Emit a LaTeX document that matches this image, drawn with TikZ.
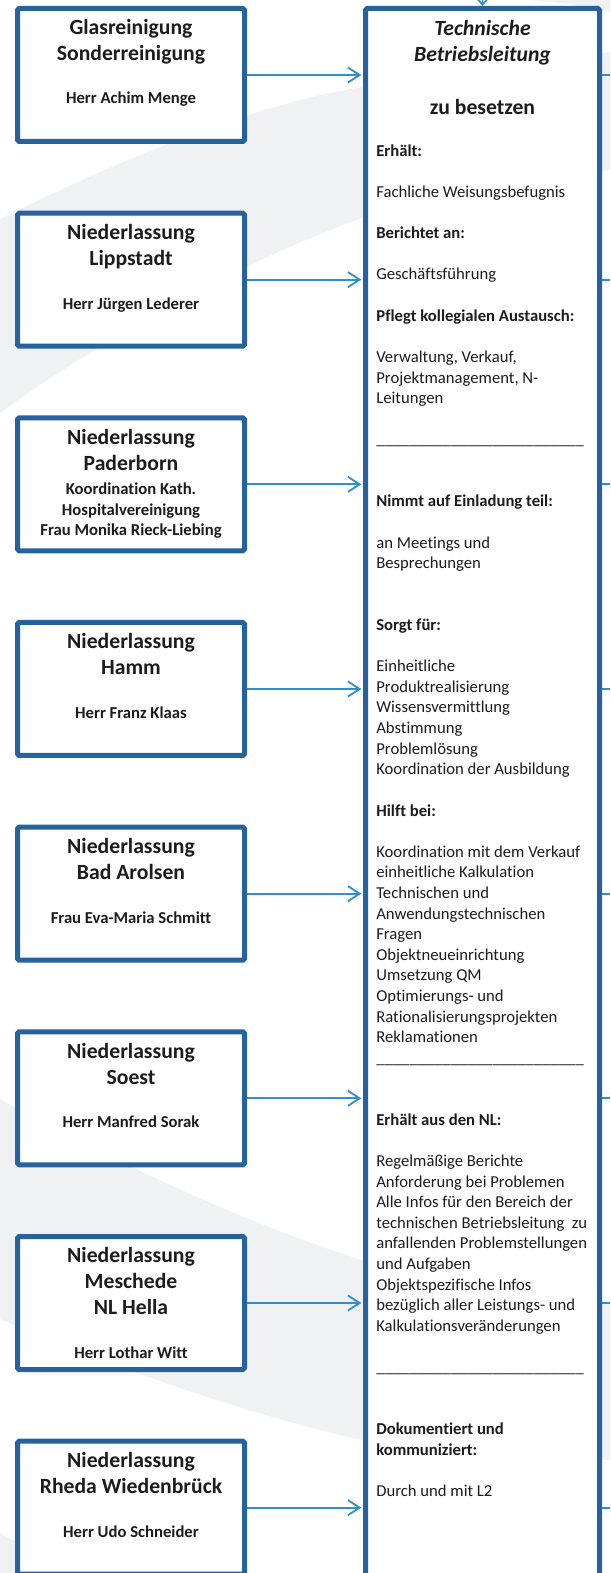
\documentclass[tikz,border=0pt]{standalone}
\usepackage{fontspec}
\setmainfont{Carlito}[Ligatures=NoCommon]
\usetikzlibrary{positioning,arrows.meta}

\definecolor{rahmenblau}{RGB}{37,98,158}
\definecolor{pfeilblau}{RGB}{48,143,207}
\definecolor{hintergrau}{RGB}{240,241,243}
\definecolor{schrift}{RGB}{28,28,28}

\newcommand{\nlname}[1]{{\fontsize{10}{12}\selectfont #1}}
\newcommand{\trennstrich}{\_\_\_\_\_\_\_\_\_\_\_\_\_\_\_\_\_\_\_\_\_\_\_\_\_}

\begin{document}
\begin{tikzpicture}[x=0.6pt,y=-0.6pt,>={Straight Barb[length=7pt,width=9pt]},node distance=40pt,every node/.style={text=schrift}]
\tikzstyle{nlbox}=[draw=rahmenblau,line width=3pt,fill=white,rounded corners=1pt,minimum width=136.2pt,minimum height=79.8pt]
\tikzstyle{tblbox}=[draw=rahmenblau,line width=3pt,fill=white,rounded corners=1pt,minimum width=140.4pt,minimum height=955pt]
\tikzstyle{nltext}=[align=center,inner sep=0pt,font=\bfseries\fontsize{13}{15.6}\selectfont]
\tikzstyle{tbltitel}=[align=center,inner sep=0pt,font=\bfseries\fontsize{13}{15.9}\selectfont]
\tikzstyle{tbltext}=[align=left,inner sep=0pt,font=\fontsize{10}{12.37}\selectfont]
\tikzstyle{zufluss}=[->,draw=pfeilblau,line width=1.1pt,shorten >=1pt]
\tikzstyle{abfluss}=[draw=pfeilblau,line width=1.1pt]
\useasboundingbox (0,0) rectangle (610,1573);

% Hintergrund
\fill[hintergrau] (0,219) .. controls (120,160) and (250,105) .. (362,87)
  .. controls (450,72) and (540,58) .. (610,52) -- (610,170)
  .. controls (500,185) and (420,200) .. (362,218)
  .. controls (240,262) and (100,340) .. (0,413) -- cycle;
\fill[hintergrau] (0,1099) .. controls (120,1165) and (250,1225) .. (362,1260)
  .. controls (450,1285) and (530,1298) .. (610,1303) -- (610,1460)
  .. controls (500,1452) and (430,1448) .. (362,1440)
  .. controls (250,1415) and (120,1370) .. (0,1319) -- cycle;
\fill[hintergrau] (530,0) .. controls (570,4) .. (610,12) -- (610,0) -- cycle;
\fill[hintergrau] (0,1533) .. controls (30,1550) .. (70,1573) -- (0,1573) -- cycle;

% Niederlassungen
\node[nlbox] (glas) at (131,75) {};
\node[nlbox,below=of glas] (lipp) {};
\node[nlbox,below=of lipp] (pade) {};
\node[nlbox,below=of pade] (hamm) {};
\node[nlbox,below=of hamm] (arol) {};
\node[nlbox,below=of arol] (soes) {};
\node[nlbox,below=of soes] (mesc) {};
\node[nlbox,below=of mesc] (rhed) {};

\node[nltext,below=7.6pt of glas.north] (glastext) {Glasreinigung\\Sonderreinigung\\[10.5pt]\nlname{Herr Achim Menge}};
\node[nltext,below=8pt of lipp.north] (lipptext) {Niederlassung\\Lippstadt\\[10.5pt]\nlname{Herr Jürgen Lederer}};
\node[nltext,below=8pt of pade.north] (padetext) {Niederlassung\\Paderborn\\[-1pt]\nlname{Koordination Kath.}\\[-3.2pt]\nlname{Hospitalvereinigung}\\[-3.2pt]\nlname{Frau Monika Rieck-Liebing}};
\node[nltext,below=8pt of hamm.north] (hammtext) {Niederlassung\\Hamm\\[10.5pt]\nlname{Herr Franz Klaas}};
\node[nltext,below=8pt of arol.north] (aroltext) {Niederlassung\\Bad Arolsen\\[10.5pt]\nlname{Frau Eva-Maria Schmitt}};
\node[nltext,below=8pt of soes.north] (soestext) {Niederlassung\\Soest\\[10.5pt]\nlname{Herr Manfred Sorak}};
\node[nltext,below=8pt of mesc.north] (mesctext) {Niederlassung\\Meschede\\NL Hella\\[10.5pt]\nlname{Herr Lothar Witt}};
\node[nltext,below=8pt of rhed.north] (rhedtext) {Niederlassung\\Rheda Wiedenbrück\\[10.5pt]\nlname{Herr Udo Schneider}};

% Technische Betriebsleitung
\node[tblbox] (tbl) at (482.5,804.25) {};
\node[tbltitel,below=8.3pt of tbl.north] (titel) {\textit{Technische}\\\textit{Betriebsleitung}\\[15.9pt]zu besetzen};
\node[tbltext,below right=83pt and 7.8pt of tbl.north west] (aufgaben) {%
\textbf{Erhält:}\\[\baselineskip]
Fachliche Weisungsbefugnis\\[\baselineskip]
\textbf{Berichtet an:}\\[\baselineskip]
Geschäftsführung\\[\baselineskip]
\textbf{Pflegt kollegialen Austausch:}\\[\baselineskip]
Verwaltung, Verkauf,\\
Projektmanagement, N-\\
Leitungen\\[\baselineskip]
\trennstrich\\[2\baselineskip]
\textbf{Nimmt auf Einladung teil:}\\[\baselineskip]
an Meetings und\\
Besprechungen\\[2\baselineskip]
\textbf{Sorgt für:}\\[\baselineskip]
Einheitliche\\
Produktrealisierung\\
Wissensvermittlung\\
Abstimmung\\
Problemlösung\\
Koordination der Ausbildung\\[\baselineskip]
\textbf{Hilft bei:}\\[\baselineskip]
Koordination mit dem Verkauf\\
einheitliche Kalkulation\\
Technischen und\\
Anwendungstechnischen\\
Fragen\\
Objektneueinrichtung\\
Umsetzung QM\\
Optimierungs- und\\
Rationalisierungsprojekten\\
Reklamationen\\
\trennstrich\\[2\baselineskip]
\textbf{Erhält aus den NL:}\\[\baselineskip]
Regelmäßige Berichte\\
Anforderung bei Problemen\\
Alle Infos für den Bereich der\\
technischen Betriebsleitung~~zu\\
anfallenden Problemstellungen\\
und Aufgaben\\
Objektspezifische Infos\\
bezüglich aller Leistungs- und\\
Kalkulationsveränderungen\\[\baselineskip]
\trennstrich\\[2\baselineskip]
\textbf{Dokumentiert und}\\
\textbf{kommuniziert:}\\[\baselineskip]
Durch und mit L2};

% Verbindungen
\coordinate (rim) at (610,0);
\coordinate (oben) at (482.5,0);
\foreach \nl in {glas,lipp,pade,hamm,arol,soes,mesc,rhed}{
  \draw[zufluss] (\nl.east) -- (\nl.east -| tbl.west);
  \draw[abfluss] (\nl.east -| tbl.east) -- (\nl.east -| rim);
}
\draw[zufluss,-{Straight Barb[length=4pt,width=7pt]},shorten >=0pt] (oben) -- (tbl.north);
\end{tikzpicture}
\end{document}
